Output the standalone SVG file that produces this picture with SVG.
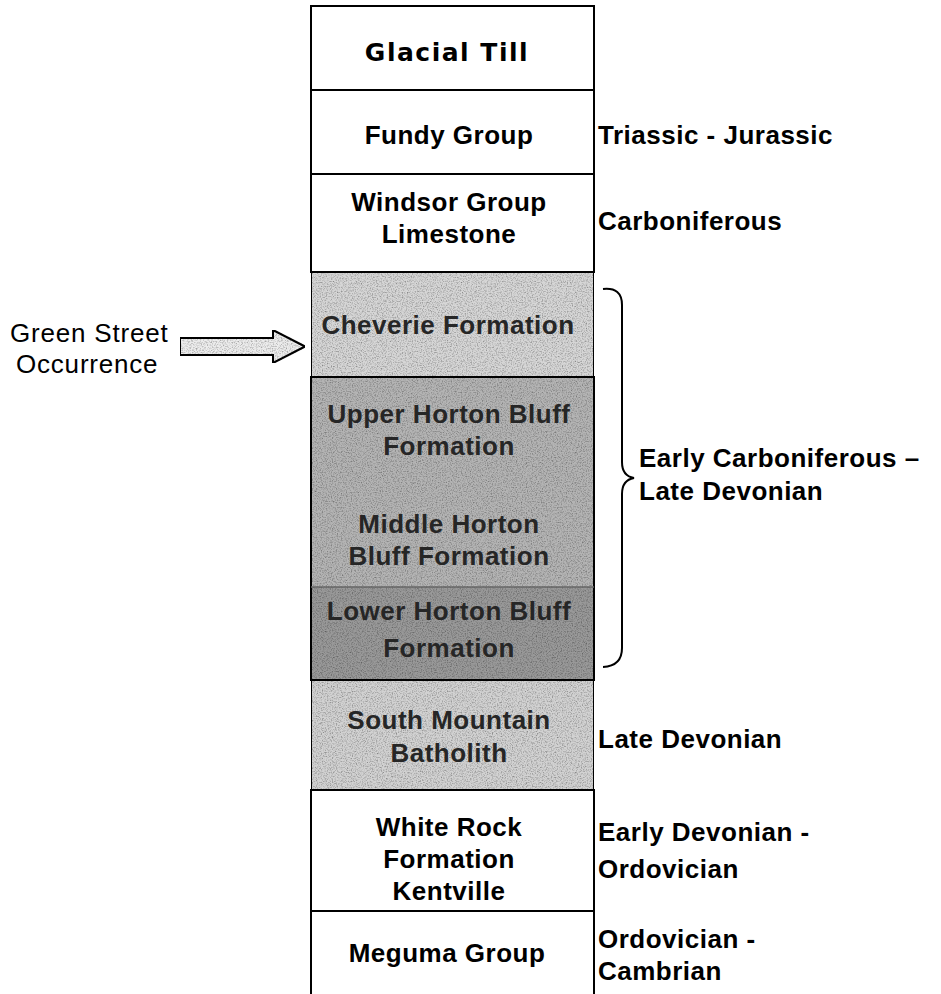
<svg xmlns="http://www.w3.org/2000/svg" width="941" height="994" viewBox="0 0 941 994">
<style>
.box{stroke:#000;stroke-width:2}
.w{fill:#fff}
.lt{font-family:"Liberation Sans",Arial,sans-serif;font-weight:bold;font-size:26px;letter-spacing:0.5px;text-anchor:middle;fill:#000}
.dk{fill:#262626}
.age{font-family:"Liberation Sans",Arial,sans-serif;font-weight:bold;font-size:26px;letter-spacing:0.5px;fill:#000}
.gs{font-family:"Liberation Sans",Arial,sans-serif;font-size:26px;letter-spacing:0.8px;fill:#000}
</style>
<defs>
<filter id="grain" x="0" y="0" width="100%" height="100%">
<feTurbulence type="fractalNoise" baseFrequency="0.8" numOctaves="2" seed="3" result="n"/>
<feColorMatrix in="n" type="matrix" values="0 0 0 0 0  0 0 0 0 0  0 0 0 0 0  0 0 0 -1.4 0.8" result="d"/>
<feComposite in="d" in2="SourceGraphic" operator="in" result="dots"/>
<feMerge><feMergeNode in="SourceGraphic"/><feMergeNode in="dots"/></feMerge>
</filter>
</defs>
<rect width="941" height="994" fill="#fff"/>
<g id="glacial-till"><rect class="box w" x="311" y="6" width="283" height="84"/><text x="447" y="61" style="font-family:'DejaVu Sans',Verdana,sans-serif;font-weight:bold;font-size:25px;letter-spacing:1.5px;text-anchor:middle">Glacial Till</text></g>
<g id="fundy"><rect class="box w" x="311" y="90" width="283" height="84"/><text class="lt" x="449" y="144">Fundy Group</text></g>
<g id="windsor"><rect class="box w" x="311" y="174" width="283" height="98"/><text class="lt" x="449" y="211">Windsor Group</text><text class="lt" x="449" y="243">Limestone</text></g>
<g id="cheverie"><rect class="box" x="311" y="272" width="283" height="105" fill="#d6d6d6" filter="url(#grain)"/><text class="lt dk" x="448" y="334">Cheverie Formation</text></g>
<g id="upper-horton"><rect x="311" y="377" width="283" height="105" fill="#b4b4b4" filter="url(#grain)"/><text class="lt dk" x="449" y="423">Upper Horton Bluff</text><text class="lt dk" x="449" y="455">Formation</text></g>
<g id="middle-horton"><rect x="311" y="482" width="283" height="105" fill="#b4b4b4" filter="url(#grain)"/><text class="lt dk" x="449" y="533">Middle Horton</text><text class="lt dk" x="449" y="565">Bluff Formation</text></g>
<g id="lower-horton"><rect x="311" y="587" width="283" height="93" fill="#999999" filter="url(#grain)"/><text class="lt dk" x="449" y="620">Lower Horton Bluff</text><text class="lt dk" x="449" y="657">Formation</text></g>
<rect x="311" y="377" width="283" height="303" fill="none" stroke="#000" stroke-width="2"/>
<line x1="311" y1="587" x2="594" y2="587" stroke="#666" stroke-width="1.5"/>
<g id="south-mountain"><rect class="box" x="311" y="680" width="283" height="110" fill="#d2d2d2" filter="url(#grain)"/><text class="lt dk" x="449" y="729">South Mountain</text><text class="lt dk" x="449" y="762">Batholith</text></g>
<g id="white-rock"><rect class="box w" x="311" y="790" width="283" height="121"/><text class="lt" x="449" y="836">White Rock</text><text class="lt" x="449" y="868">Formation</text><text class="lt" x="449" y="900">Kentville</text></g>
<g id="meguma"><rect class="box w" x="311" y="911" width="283" height="90"/><text class="lt" x="447" y="962">Meguma Group</text></g>
<g id="ages">
<text class="age" x="598" y="144">Triassic - Jurassic</text>
<text class="age" x="598" y="230">Carboniferous</text>
<text class="age" x="639" y="467">Early Carboniferous –</text>
<text class="age" x="639" y="500">Late Devonian</text>
<text class="age" x="598" y="748">Late Devonian</text>
<text class="age" x="598" y="841">Early Devonian -</text>
<text class="age" x="598" y="878">Ordovician</text>
<text class="age" x="598" y="948">Ordovician -</text>
<text class="age" x="598" y="980">Cambrian</text>
</g>
<g id="green-street"><text class="gs" x="10" y="342">Green Street</text><text class="gs" x="16" y="373">Occurrence</text></g>
<g id="connectors">
<path d="M180,338 H273 V330 L305,346.5 L273,363 V355 H180 Z" fill="#ececec" stroke="#000" stroke-width="2" stroke-linejoin="miter" filter="url(#grain)"/>
<path d="M603,289 Q622,287 622,305 V462 Q622,476 634,478 Q622,480 622,494 V648 Q622,666 603,667" fill="none" stroke="#000" stroke-width="2"/>
</g>
</svg>
